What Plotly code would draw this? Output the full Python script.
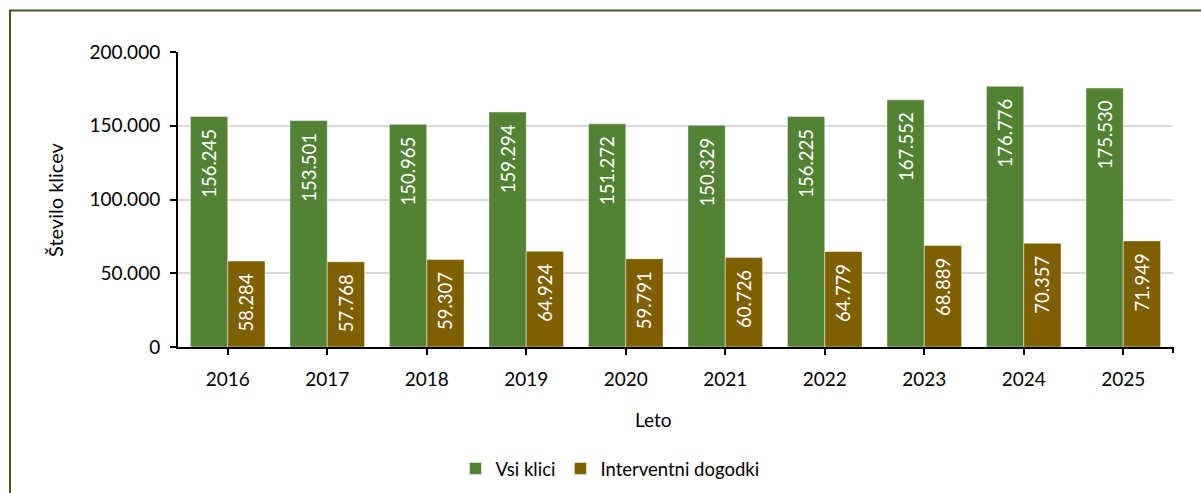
import plotly.graph_objects as go

years = ["2016", "2017", "2018", "2019", "2020", "2021", "2022", "2023", "2024", "2025"]
vsi_klici = [156245, 153501, 150965, 159294, 151272, 150329, 156225, 167552, 176776, 175530]
interventni = [58284, 57768, 59307, 64924, 59791, 60726, 64779, 68889, 70357, 71949]

FONT = "Lato"
GREEN = "#548235"
BROWN = "#7f6000"

W, H = 1201, 493
L, R, T, B = 178, 28, 52, 146
PW, PH = W - L - R, H - T - B


def px_x(x):
    return (x - L) / PW


def px_y(y):
    return (H - B - y) / PH


fig = go.Figure()
for name, vals, col in [("Vsi klici", vsi_klici, GREEN), ("Interventni dogodki", interventni, BROWN)]:
    fig.add_trace(go.Bar(
        x=years, y=vals, name=name,
        marker=dict(color=col, line=dict(color="rgba(255,255,255,0.45)", width=1)),
        texttemplate="%{y:,}\u00a0\u00a0", textposition="inside", insidetextanchor="end",
        textangle=-90, textfont=dict(color="white", size=18.5, family=FONT),
        cliponaxis=False,
    ))

fig.update_layout(
    width=W, height=H, barmode="group", bargap=0.25, bargroupgap=0,
    separators=",.",
    paper_bgcolor="white", plot_bgcolor="white",
    margin=dict(l=L, r=R, t=T, b=B, autoexpand=False),
    font=dict(family=FONT, size=19, color="#000000"),
    showlegend=True,
    legend=dict(orientation="h", x=px_x(610), xanchor="center", y=px_y(469), yanchor="middle",
                font=dict(size=18.5), itemwidth=30, tracegroupgap=0),
    xaxis=dict(showline=True, linecolor="black", linewidth=2, ticks="outside", ticklen=6,
               tickcolor="black", tickwidth=2, tickfont=dict(size=19), ticklabelstandoff=8,
               automargin=False),
    yaxis=dict(range=[0, 200000], dtick=50000, tickformat=",d", showline=True, linecolor="black",
               linewidth=2, ticks="outside", ticklen=6, tickcolor="black", tickwidth=2,
               gridcolor="#d9d9d9", gridwidth=2, zeroline=False, tickfont=dict(size=19),
               ticklabelstandoff=6, automargin=False),
    annotations=[
        dict(text="Število klicev", xref="paper", yref="paper", x=px_x(55), y=px_y(200),
             textangle=-90, showarrow=False, font=dict(size=20), xanchor="center", yanchor="middle"),
        dict(text="Leto", xref="paper", yref="paper", x=px_x(653), y=px_y(419),
             showarrow=False, font=dict(size=19), xanchor="center", yanchor="middle"),
    ],
    shapes=[
        # tick at the right end of the category axis
        dict(type="line", xref="paper", yref="paper", x0=1, x1=1, y0=0, y1=px_y(353),
             line=dict(color="black", width=2)),
        # outer frame
        dict(type="rect", xref="paper", yref="paper", x0=px_x(10), x1=px_x(1215),
             y0=px_y(510), y1=px_y(10.5), line=dict(color="#3d5c20", width=2), layer="below"),
    ],
)

fig.write_html("out.html")
